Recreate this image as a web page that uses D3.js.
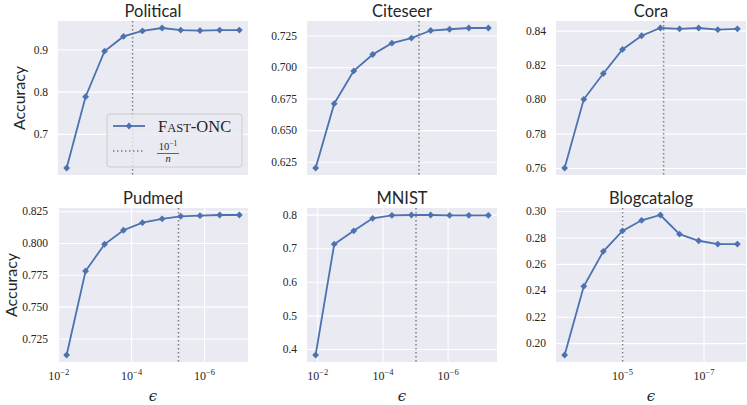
<!DOCTYPE html>
<html>
<head>
<meta charset="utf-8">
<script src="https://cdn.jsdelivr.net/npm/d3@7"></script>
<style>
  body { margin: 0; background: #fff; }
  svg { display: block; }
</style>
</head>
<body>
<div id="chart"></div>
<script>
// epsilon values (as log10 exponents) for each column of panels
var logEpsCol1 = [-2.23, -2.75, -3.27, -3.79, -4.31, -4.85, -5.36, -5.89, -6.43, -6.97];
var logEpsCol2 = [-1.95, -2.52, -3.12, -3.70, -4.29, -4.89, -5.48, -6.06, -6.65, -7.25];
var logEpsCol3 = [-3.59, -4.06, -4.54, -5.01, -5.48, -5.94, -6.41, -6.88, -7.35, -7.83];

// accuracy of Fast-ONC per dataset
var accPolitical   = [0.619, 0.788, 0.896, 0.931, 0.944, 0.951, 0.946, 0.945, 0.946, 0.946];
var accCiteseer    = [0.620, 0.671, 0.697, 0.710, 0.719, 0.723, 0.729, 0.730, 0.731, 0.731];
var accCora        = [0.760, 0.800, 0.815, 0.829, 0.837, 0.8415, 0.841, 0.8415, 0.8405, 0.841];
var accPudmed      = [0.712, 0.778, 0.799, 0.810, 0.816, 0.819, 0.821, 0.8215, 0.822, 0.822];
var accMNIST       = [0.382, 0.712, 0.752, 0.789, 0.798, 0.799, 0.799, 0.798, 0.798, 0.798];
var accBlogcatalog = [0.191, 0.243, 0.2695, 0.285, 0.293, 0.297, 0.2825, 0.2775, 0.275, 0.275];

// position of the 10^-1/n reference line (log10)
var refLines = [-4.04, -5.12, -6.02, -5.30, -5.03, -5.013];

var titles = ["Political", "Citeseer", "Cora", "Pudmed", "MNIST", "Blogcatalog"];

// tick values
var yTicksPolitical   = [0.7, 0.8, 0.9];
var yTicksCiteseer    = [0.625, 0.650, 0.675, 0.700, 0.725];
var yTicksCora        = [0.76, 0.78, 0.80, 0.82, 0.84];
var yTicksPudmed      = [0.725, 0.750, 0.775, 0.800, 0.825];
var yTicksMNIST       = [0.4, 0.5, 0.6, 0.7, 0.8];
var yTicksBlogcatalog = [0.20, 0.22, 0.24, 0.26, 0.28, 0.30];
var xTickExpCol1 = [-2, -4, -6];
var xTickExpCol2 = [-2, -4, -6];
var xTickExpCol3 = [-5, -7];

var panels = [
  {title: titles[0], eps: logEpsCol1, acc: accPolitical,   ref: refLines[0], yTicks: yTicksPolitical,   fmt: ".1f", xTicks: xTickExpCol1, col: 0, row: 0},
  {title: titles[1], eps: logEpsCol2, acc: accCiteseer,    ref: refLines[1], yTicks: yTicksCiteseer,    fmt: ".3f", xTicks: xTickExpCol2, col: 1, row: 0},
  {title: titles[2], eps: logEpsCol3, acc: accCora,        ref: refLines[2], yTicks: yTicksCora,        fmt: ".2f", xTicks: xTickExpCol3, col: 2, row: 0},
  {title: titles[3], eps: logEpsCol1, acc: accPudmed,      ref: refLines[3], yTicks: yTicksPudmed,      fmt: ".3f", xTicks: xTickExpCol1, col: 0, row: 1},
  {title: titles[4], eps: logEpsCol2, acc: accMNIST,       ref: refLines[4], yTicks: yTicksMNIST,       fmt: ".1f", xTicks: xTickExpCol2, col: 1, row: 1},
  {title: titles[5], eps: logEpsCol3, acc: accBlogcatalog, ref: refLines[5], yTicks: yTicksBlogcatalog, fmt: ".2f", xTicks: xTickExpCol3, col: 2, row: 1}
];

// layout
var colLeft = [58, 307, 556],
    rowTop = [21, 208],
    ylabelX = [25, 16.5],   // y label sits left of the tick labels, which are wider in row 2
    W = 190,
    H = 154;

var BLUE = "#4c72b0",
    BG = "#eaeaf2",
    TXT = "#262626",
    SERIF = "'Liberation Serif', 'DejaVu Serif', serif",
    SANS = "Lato, 'Open Sans', sans-serif";

var svg = d3.select("#chart").append("svg")
  .attr("width", 747)
  .attr("height", 405);

function diamond(r) {
  return "M0," + (-r) + "L" + r + ",0L0," + r + "L" + (-r) + ",0Z";
}

panels.forEach(function(p) {
  var left = colLeft[p.col], top = rowTop[p.row];

  // matplotlib-like 5% margins (log space for x)
  var ex = d3.extent(p.eps), px = (ex[1] - ex[0]) * 0.05;
  var x = d3.scaleLog()
    .domain([Math.pow(10, ex[1] + px), Math.pow(10, ex[0] - px)])
    .range([left, left + W]);
  var ey = d3.extent(p.acc), py = (ey[1] - ey[0]) * 0.05;
  var y = d3.scaleLinear()
    .domain([ey[0] - py, ey[1] + py])
    .range([top + H, top]);

  var g = svg.append("g");

  g.append("rect")
    .attr("x", left).attr("y", top)
    .attr("width", W).attr("height", H)
    .attr("fill", BG);

  // y axis + horizontal grid
  var yAxis = d3.axisLeft(y)
    .tickValues(p.yTicks)
    .tickFormat(d3.format(p.fmt))
    .tickSize(-W)
    .tickPadding(10);
  var ya = g.append("g")
    .attr("transform", "translate(" + left + ",0)")
    .call(yAxis);
  ya.select(".domain").remove();
  ya.selectAll(".tick line").attr("stroke", "#fff").attr("stroke-width", 1.1);
  ya.selectAll(".tick text")
    .attr("fill", TXT)
    .style("font-family", SERIF)
    .style("font-size", "11.5px");

  // x axis only in bottom row
  if (p.row === 1) {
    var xAxis = d3.axisBottom(x)
      .tickValues(p.xTicks.map(function(e) { return Math.pow(10, e); }))
      .tickFormat(function() { return ""; })
      .tickSize(-H)
      .tickPadding(0);
    var xa = g.append("g")
      .attr("transform", "translate(0," + (top + H) + ")")
      .call(xAxis);
    xa.select(".domain").remove();
    xa.selectAll(".tick line").attr("stroke", "#fff").attr("stroke-width", 1.1);
    xa.selectAll(".tick text").remove();
    xa.selectAll(".tick").each(function(d) {
      var t = d3.select(this).append("text")
        .attr("y", 18)
        .attr("text-anchor", "middle")
        .attr("fill", TXT)
        .style("font-family", SERIF)
        .style("font-size", "12px");
      t.append("tspan").text("10");
      t.append("tspan")
        .attr("dy", -5)
        .style("font-size", "8.5px")
        .text("\u2212" + Math.round(-Math.log10(d)));
    });

    g.append("text")
      .attr("x", left + W / 2)
      .attr("y", 401)
      .attr("text-anchor", "middle")
      .attr("fill", TXT)
      .style("font-family", "'DejaVu Serif', serif")
      .style("font-style", "italic")
      .style("font-size", "15px")
      .text("\u03f5");
  }

  // reference line 10^-1/n
  g.append("line")
    .attr("x1", x(Math.pow(10, p.ref))).attr("x2", x(Math.pow(10, p.ref)))
    .attr("y1", top).attr("y2", top + H)
    .attr("stroke", "#808080")
    .attr("stroke-width", 1.5)
    .attr("stroke-dasharray", "1.5,2.5");

  var pts = p.eps.map(function(e, i) { return [Math.pow(10, e), p.acc[i]]; });

  var line = d3.line()
    .x(function(d) { return x(d[0]); })
    .y(function(d) { return y(d[1]); });

  g.append("path")
    .datum(pts)
    .attr("d", line)
    .attr("fill", "none")
    .attr("stroke", BLUE)
    .attr("stroke-width", 1.8);

  g.selectAll(".mk")
    .data(pts)
    .enter()
    .append("path")
    .attr("class", "mk")
    .attr("d", diamond(3.4))
    .attr("transform", function(d) { return "translate(" + x(d[0]) + "," + y(d[1]) + ")"; })
    .attr("fill", BLUE);

  // title
  g.append("text")
    .attr("x", left + W / 2)
    .attr("y", top - 4.5)
    .attr("text-anchor", "middle")
    .attr("fill", TXT)
    .style("font-family", SANS)
    .style("font-size", "16.5px")
    .text(p.title);

  // y label on the left column
  if (p.col === 0) {
    g.append("text")
      .attr("transform", "translate(" + ylabelX[p.row] + "," + (top + H / 2) + ") rotate(-90)")
      .attr("text-anchor", "middle")
      .attr("fill", TXT)
      .style("font-family", SANS)
      .style("font-size", "16px")
      .text("Accuracy");
  }
});

// legend (inside Political)
var lg = svg.append("g").attr("transform", "translate(107,114)");
lg.append("rect")
  .attr("width", 135).attr("height", 53)
  .attr("rx", 3)
  .attr("fill", BG).attr("fill-opacity", 0.8)
  .attr("stroke", "#cccccc").attr("stroke-width", 1);
lg.append("line")
  .attr("x1", 6).attr("x2", 38).attr("y1", 12).attr("y2", 12)
  .attr("stroke", BLUE).attr("stroke-width", 1.8);
lg.append("path")
  .attr("d", diamond(3.4))
  .attr("transform", "translate(22,12)")
  .attr("fill", BLUE);
var lt = lg.append("text")
  .attr("x", 51).attr("y", 18)
  .attr("fill", TXT)
  .style("font-family", SERIF)
  .style("font-size", "16.5px");
lt.append("tspan").text("F");
lt.append("tspan").style("font-size", "12.5px").text("AST");
lt.append("tspan").text("-ONC");

lg.append("line")
  .attr("x1", 6).attr("x2", 38).attr("y1", 37).attr("y2", 37)
  .attr("stroke", "#808080").attr("stroke-width", 1.5)
  .attr("stroke-dasharray", "1.5,2.5");
var num = lg.append("text")
  .attr("x", 61).attr("y", 36)
  .attr("text-anchor", "middle")
  .attr("fill", TXT)
  .style("font-family", SERIF)
  .style("font-size", "10.5px");
num.append("tspan").text("10");
num.append("tspan").attr("dy", -4).style("font-size", "7.5px").text("\u22121");
lg.append("line")
  .attr("x1", 50).attr("x2", 72).attr("y1", 39.5).attr("y2", 39.5)
  .attr("stroke", TXT).attr("stroke-width", 0.7);
lg.append("text")
  .attr("x", 61).attr("y", 47.5)
  .attr("text-anchor", "middle")
  .attr("fill", TXT)
  .style("font-family", SERIF)
  .style("font-style", "italic")
  .style("font-size", "10.5px")
  .text("n");
</script>
</body>
</html>
